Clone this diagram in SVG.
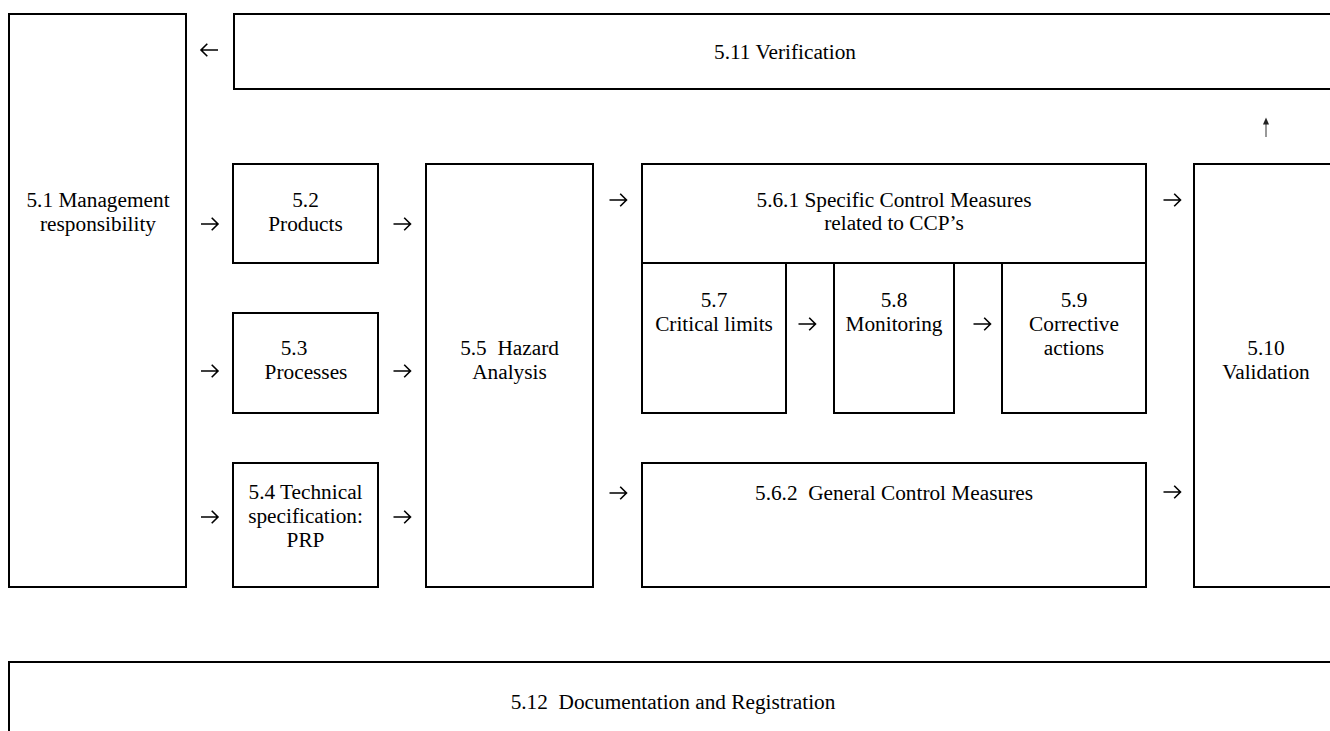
<svg xmlns="http://www.w3.org/2000/svg" xmlns:xlink="http://www.w3.org/1999/xlink" width="1330" height="731" viewBox="0 0 1330 731">
<style>
.box{fill:#fff;stroke:#000;stroke-width:2}
.line{fill:none;stroke:#000;stroke-width:2}
.t{font-family:"Liberation Serif","Times New Roman",serif;font-size:21.3px;fill:#000;text-anchor:middle;white-space:pre}
.arr{fill:none;stroke:#000;stroke-width:1.6;stroke-linejoin:miter;stroke-linecap:butt}
</style>
<defs>
<path id="ar" class="arr" d="M-8.5,0 H8 M2.2,-6.3 L8.5,0 L2.2,6.3"/>
<path id="al" class="arr" d="M8.5,0 H-8 M-2.2,-6.3 L-8.5,0 L-2.2,6.3"/>
</defs>
<rect width="1330" height="731" fill="#fff"/>

<g id="n511">
<rect class="box" x="234" y="14" width="1103" height="75"/>
<text class="t" x="785" y="59">5.11 Verification</text>
</g>
<g id="n51">
<rect class="box" x="9" y="14" width="177" height="573"/>
<text class="t" x="98" y="207">5.1 Management</text>
<text class="t" x="98" y="231">responsibility</text>
</g>
<g id="n52">
<rect class="box" x="233" y="164" width="145" height="99"/>
<text class="t" x="305.5" y="207">5.2</text>
<text class="t" x="305.5" y="231">Products</text>
</g>
<g id="n53">
<rect class="box" x="233" y="313" width="145" height="100"/>
<text class="t" x="294" y="355">5.3</text>
<text class="t" x="306" y="379">Processes</text>
</g>
<g id="n54">
<rect class="box" x="233" y="463" width="145" height="124"/>
<text class="t" x="305.5" y="499">5.4 Technical</text>
<text class="t" x="305.5" y="523">specification:</text>
<text class="t" x="305.5" y="547">PRP</text>
</g>
<g id="n55">
<rect class="box" x="426" y="164" width="167" height="423"/>
<text class="t" x="509.5" y="355">5.5  Hazard</text>
<text class="t" x="509.5" y="379">Analysis</text>
</g>
<g id="n561">
<rect class="box" x="642" y="164" width="504" height="99"/>
<text class="t" x="894" y="207">5.6.1 Specific Control Measures</text>
<text class="t" x="894" y="230">related to CCP’s</text>
</g>
<g id="n57">
<path class="line" d="M642,263 V413 H786 V263"/>
<text class="t" x="714" y="307">5.7</text>
<text class="t" x="714" y="331">Critical limits</text>
</g>
<g id="n58">
<path class="line" d="M834,263 V413 H954 V263"/>
<text class="t" x="894" y="307">5.8</text>
<text class="t" x="894" y="331">Monitoring</text>
</g>
<g id="n59">
<path class="line" d="M1002,263 V413 H1146 V263"/>
<text class="t" x="1074" y="307">5.9</text>
<text class="t" x="1074" y="331">Corrective</text>
<text class="t" x="1074" y="355">actions</text>
</g>
<g id="n562">
<rect class="box" x="642" y="463" width="504" height="124"/>
<text class="t" x="894" y="500">5.6.2  General Control Measures</text>
</g>
<g id="n510">
<rect class="box" x="1194" y="164" width="143" height="423"/>
<text class="t" x="1266" y="355">5.10</text>
<text class="t" x="1266" y="379">Validation</text>
</g>
<g id="n512">
<rect class="box" x="9" y="662" width="1328" height="80"/>
<text class="t" x="673" y="709">5.12  Documentation and Registration</text>
</g>

<g id="connectors">
<use xlink:href="#al" x="209.5" y="50"/>
<use xlink:href="#ar" x="209.5" y="224"/>
<use xlink:href="#ar" x="209.5" y="371"/>
<use xlink:href="#ar" x="209.5" y="517"/>
<use xlink:href="#ar" x="402" y="224"/>
<use xlink:href="#ar" x="402" y="371"/>
<use xlink:href="#ar" x="402" y="517"/>
<use xlink:href="#ar" x="618" y="200"/>
<use xlink:href="#ar" x="618" y="493"/>
<use xlink:href="#ar" x="807" y="324"/>
<use xlink:href="#ar" x="982" y="324"/>
<use xlink:href="#ar" x="1172" y="200"/>
<use xlink:href="#ar" x="1172" y="492"/>
<line x1="1266" y1="123" x2="1266" y2="137" stroke="#777" stroke-width="1.5"/>
<path d="M1263,124.5 L1266,117.5 L1269,124.5 Z" fill="#222"/>
</g>
</svg>
